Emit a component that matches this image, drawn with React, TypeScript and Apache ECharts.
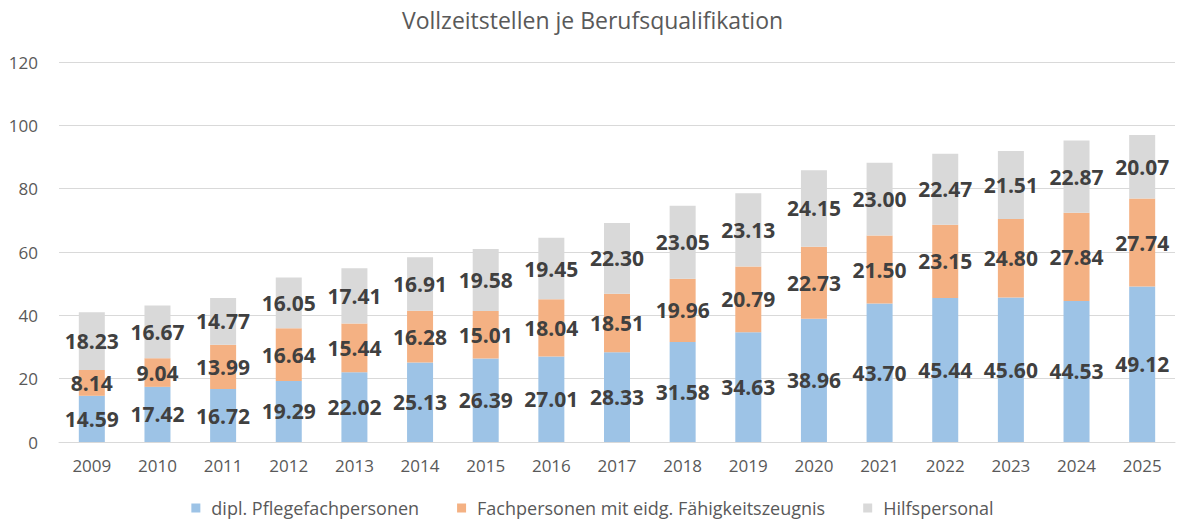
import React, { useEffect, useRef } from "react";
import * as echarts from "echarts";

const years = ["2009","2010","2011","2012","2013","2014","2015","2016","2017","2018","2019","2020","2021","2022","2023","2024","2025"];
const dipl = [14.59,17.42,16.72,19.29,22.02,25.13,26.39,27.01,28.33,31.58,34.63,38.96,43.70,45.44,45.60,44.53,49.12];
const fachpersonen = [8.14,9.04,13.99,16.64,15.44,16.28,15.01,18.04,18.51,19.96,20.79,22.73,21.50,23.15,24.80,27.84,27.74];
const hilfspersonal = [18.23,16.67,14.77,16.05,17.41,16.91,19.58,19.45,22.30,23.05,23.13,24.15,23.00,22.47,21.51,22.87,20.07];
const seriesNames = ["dipl. Pflegefachpersonen", "Fachpersonen mit eidg. Fähigkeitszeugnis", "Hilfspersonal"];
const colors = ["#9dc3e6", "#f4b183", "#d9d9d9"];

export default function App() {
  const ref = useRef<HTMLDivElement>(null);
  useEffect(() => {
    document.body.style.margin = "0";
    if (!ref.current) return;
    const chart = echarts.init(ref.current, null, { renderer: "svg" });
    const font = "'Open Sans', 'Liberation Sans', sans-serif";
    const mk = (name: string, data: number[], color: string) => ({
      name,
      type: "bar",
      stack: "total",
      data,
      barWidth: 26,
      itemStyle: { color },
      label: {
        show: true,
        position: "inside",
        formatter: (p: any) => Number(p.value).toFixed(2),
        color: "#404040",
        fontFamily: font,
        fontWeight: "bold",
        fontSize: 21,
      },
    });
    chart.setOption({
      animation: false,
      title: {
        text: "Vollzeitstellen je Berufsqualifikation",
        left: "center",
        top: 3,
        textStyle: { color: "#595959", fontFamily: font, fontWeight: "normal", fontSize: 23 },
      },
      legend: {
        bottom: 4,
        left: "center",
        icon: "rect",
        itemWidth: 9,
        itemHeight: 9,
        itemGap: 38,
        textStyle: { color: "#595959", fontFamily: font, fontSize: 18, padding: [0, 0, 0, 6] },
        data: seriesNames,
      },
      grid: { left: 59, right: 10, top: 62, bottom: 84 },
      xAxis: {
        type: "category",
        data: years,
        axisLine: { lineStyle: { color: "#d9d9d9" } },
        axisTick: { show: false },
        axisLabel: { color: "#595959", fontFamily: font, fontSize: 17, margin: 15 },
      },
      yAxis: {
        type: "value",
        min: 0,
        max: 120,
        interval: 20,
        axisLine: { show: false },
        axisTick: { show: false },
        splitLine: { lineStyle: { color: "#d9d9d9" } },
        axisLabel: { color: "#595959", fontFamily: font, fontSize: 17, margin: 21 },
      },
      series: [
        mk(seriesNames[0], dipl, colors[0]),
        mk(seriesNames[1], fachpersonen, colors[1]),
        mk(seriesNames[2], hilfspersonal, colors[2]),
      ],
    });
    return () => chart.dispose();
  }, []);
  return <div ref={ref} style={{ width: 1185, height: 526 }} />;
}
